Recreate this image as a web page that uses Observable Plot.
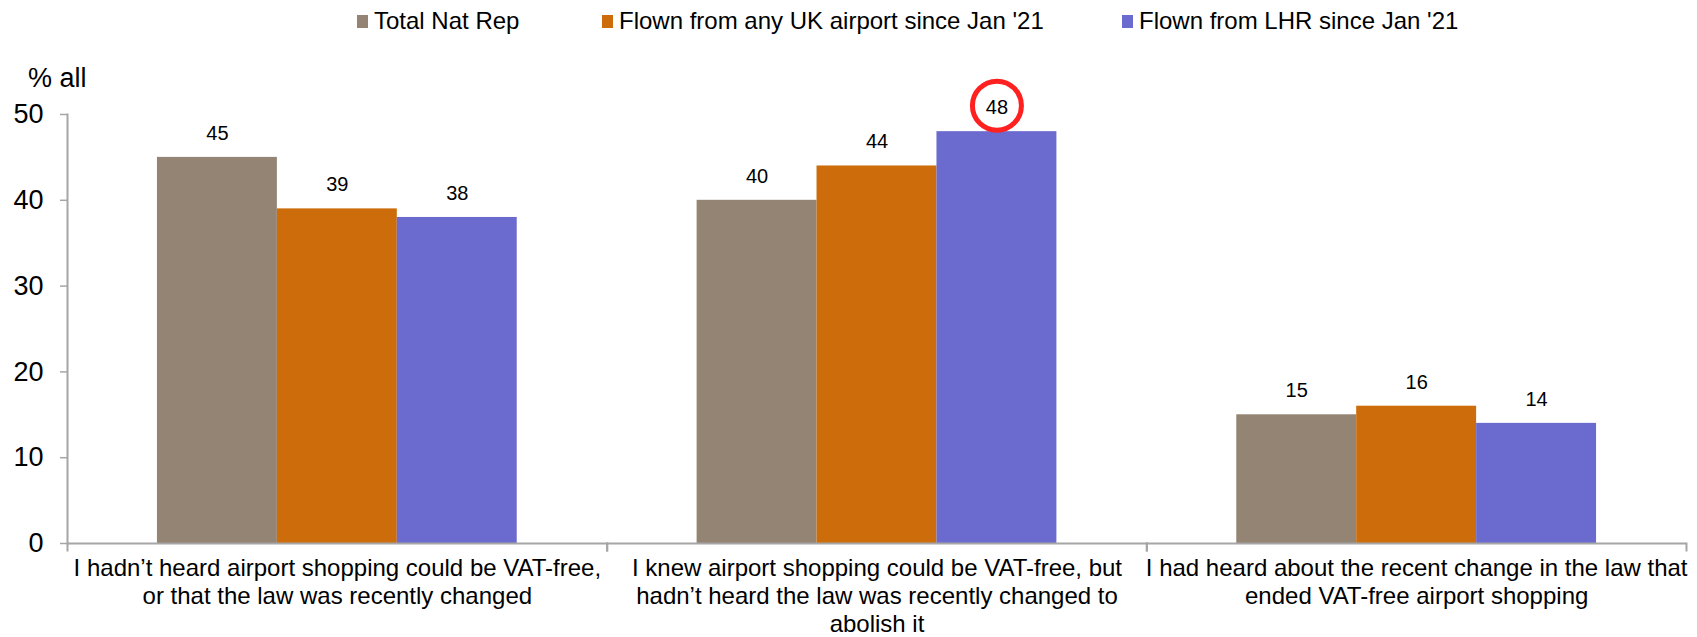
<!DOCTYPE html>
<html>
<head>
<meta charset="utf-8">
<script src="https://cdn.jsdelivr.net/npm/d3@7"></script>
<script src="https://cdn.jsdelivr.net/npm/@observablehq/plot@0.6"></script>
<style>
  body { margin: 0; background: #fff; font-family: "Liberation Sans", Arial, sans-serif; color: #000; position: relative; }
  #legend { position: relative; width: 1697px; height: 64px; }
  .item { position: absolute; top: 7px; display: flex; align-items: center; font-size: 24px; line-height: 28px; white-space: nowrap; }
  .sw { width: 11px; height: 13px; margin-right: 6px; }
  #ylabel { position: absolute; left: 28px; top: 65px; font-size: 27px; line-height: 27px; white-space: nowrap; z-index: 2; }
  #chart svg { display: block; }
</style>
</head>
<body>
<div id="legend"></div>
<div id="ylabel"></div>
<div id="chart"></div>
<script>
// ---- data ----
const categories = [
  "I hadn’t heard airport shopping could be VAT-free, or that the law was recently changed",
  "I knew airport shopping could be VAT-free, but hadn’t heard the law was recently changed to abolish it",
  "I had heard about the recent change in the law that ended VAT-free airport shopping"
];
const tickLabels = [
  "I hadn’t heard airport shopping could be VAT-free,\nor that the law was recently changed",
  "I knew airport shopping could be VAT-free, but\nhadn’t heard the law was recently changed to\nabolish it",
  "I had heard about the recent change in the law that\nended VAT-free airport shopping"
];
const series = ["Total Nat Rep", "Flown from any UK airport since Jan '21", "Flown from LHR since Jan '21"];
const totalNatRep = [45, 40, 15];
const flownAnyUK = [39, 44, 16];
const flownLHR = [38, 48, 14];
const colors = ["#948474", "#CC6C0A", "#6B6BCF"];
const yTicks = [0, 10, 20, 30, 40, 50];
const yLabel = "% all";
const circledCategory = categories[1];
const circledSeries = series[2];

// ---- table ----
const seriesValues = [totalNatRep, flownAnyUK, flownLHR];
const data = categories.flatMap((c, i) => series.map((s, j) => ({category: c, series: s, value: seriesValues[j][i]})));

// ---- legend ----
const legendLeft = [357, 602, 1122];
const legend = document.getElementById("legend");
series.forEach((s, j) => {
  const item = document.createElement("div");
  item.className = "item";
  item.style.left = legendLeft[j] + "px";
  const sw = document.createElement("span");
  sw.className = "sw";
  sw.style.background = colors[j];
  const t = document.createElement("span");
  t.textContent = s;
  item.append(sw, t);
  legend.append(item);
});
document.getElementById("ylabel").textContent = yLabel;

// ---- chart ----
const W = 1697, H = 573, mT = 50, mB = 94, mL = 67, mR = 11;
const plotH = H - mT - mB;
const axisGrey = "#A6A6A6";

const chart = Plot.plot({
  width: W, height: H,
  marginTop: mT, marginBottom: mB, marginLeft: mL, marginRight: mR,
  style: {fontFamily: '"Liberation Sans", Arial, sans-serif', fontSize: "20px", color: "#000", background: "#fff"},
  fx: {domain: categories, padding: 0, round: false},
  x: {domain: series, paddingInner: 0, paddingOuter: 0.75, round: false, axis: null},
  y: {domain: [0, 50], round: false},
  color: {domain: series, range: colors},
  marks: [
    Plot.barY(data, {fx: "category", x: "series", y: "value", fill: "series"}),
    Plot.ruleY([0], {stroke: axisGrey, strokeWidth: 2}),
    Plot.frame({anchor: "left", fx: () => categories[0], stroke: axisGrey, strokeWidth: 2}),
    Plot.frame({anchor: "left", insetTop: plotH, insetBottom: -7, stroke: axisGrey, strokeWidth: 2}),
    Plot.frame({anchor: "right", insetTop: plotH, insetBottom: -7, stroke: axisGrey, strokeWidth: 2}),
    Plot.text(data, {fx: "category", x: "series", y: "value", text: d => String(d.value), dy: -24, fontSize: 20, lineAnchor: "middle", fill: "#000"}),
    Plot.dot(data.filter(d => d.category === circledCategory && d.series === circledSeries),
      {fx: "category", x: "series", y: "value", r: 24.5, dy: -26, stroke: "#FF2020", strokeWidth: 5, fill: "none"}),
    Plot.axisY({ticks: yTicks, tickSize: 7, tickPadding: 17, fontSize: 27, stroke: axisGrey, strokeWidth: 1.5,
      label: null, tickFormat: d => String(d)}),
    Plot.axisFx({anchor: "bottom", tickSize: 0, tickPadding: 13, fontSize: 24, lineHeight: 28 / 24, label: null,
      tickFormat: c => tickLabels[categories.indexOf(c)]})
  ]
});
document.getElementById("chart").append(chart);
</script>
</body>
</html>
